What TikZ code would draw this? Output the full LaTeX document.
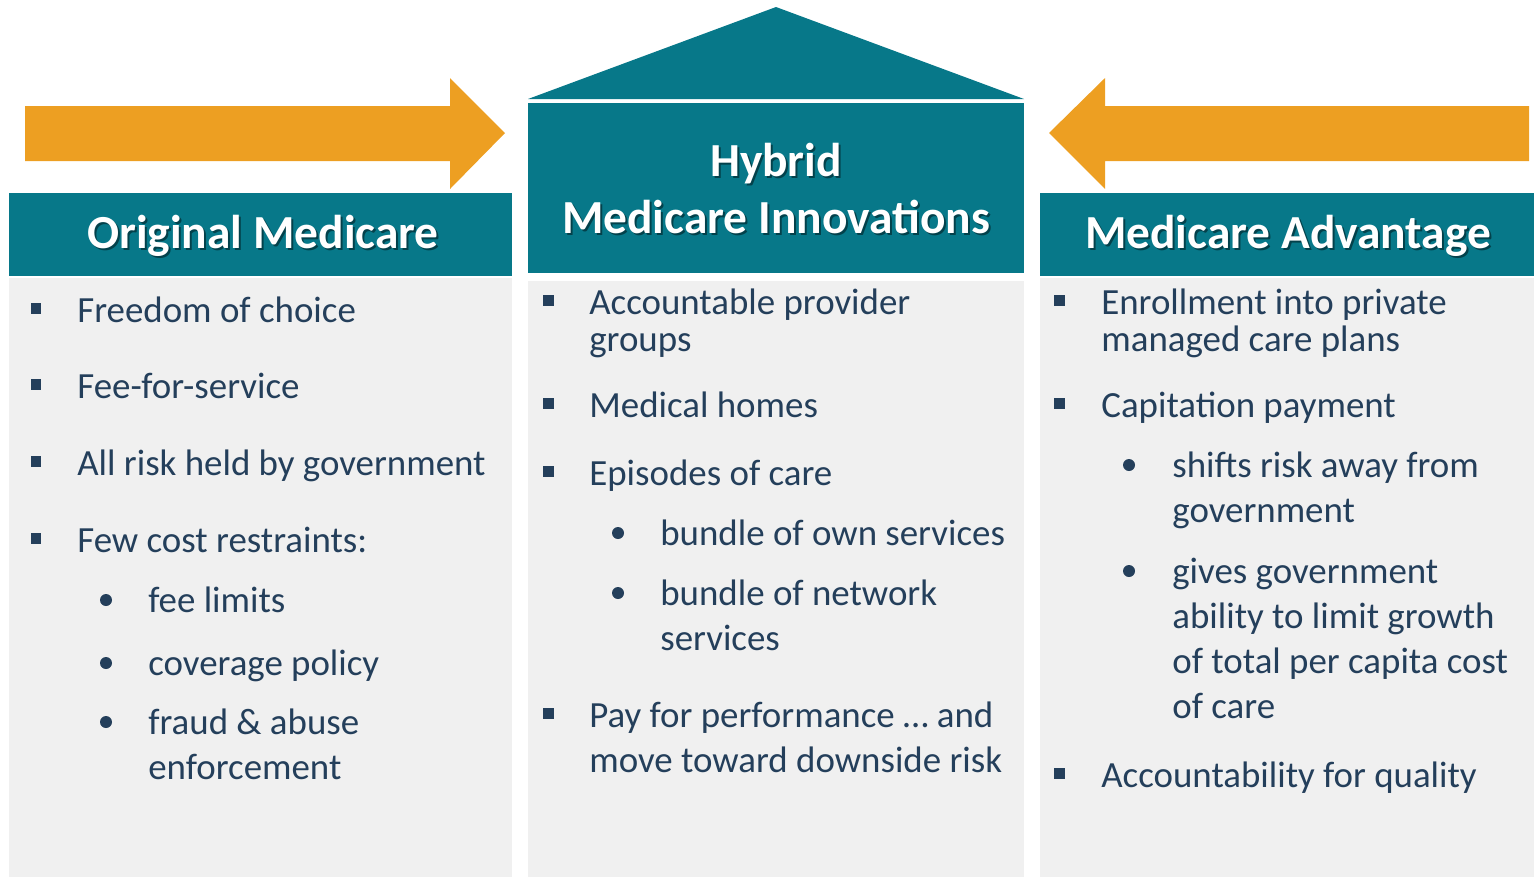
\documentclass[tikz,border=0pt]{standalone}
\usepackage{fontspec}
\setmainfont{Carlito}
\usepackage{xcolor}
\usetikzlibrary{positioning}
\definecolor{medteal}{RGB}{7, 120, 137}
\definecolor{medorange}{RGB}{237, 159, 34}
\definecolor{medgray}{RGB}{240, 240, 240}
\definecolor{medtext}{RGB}{36, 63, 91}

\begin{document}
\begin{tikzpicture}[
        x=0.02cm, y=-0.02cm,
        title/.style={text=white, font=\bfseries\fontsize{27}{32.4}\selectfont, align=center, anchor=base, inner sep=0pt},
        titleshadow/.style={title, text=black, opacity=0.45},
        item/.style={text=medtext, font=\fontsize{21}{25.6}\selectfont, align=left, anchor=north west, inner sep=0pt},
        sqbullet/.style={rectangle, fill=medtext, minimum size=0.22cm, inner sep=0pt},
        dotbullet/.style={circle, fill=medtext, minimum size=0.24cm, inner sep=0pt}
    ]
        \useasboundingbox (0,0) rectangle (1534,877);

        % arrows and roof
        \fill[medorange] (25,106) -- (450,106) -- (450,78) -- (505,133) -- (450,189) -- (450,161) -- (25,161) -- cycle;
        \fill[medorange] (1529,106) -- (1105,106) -- (1105,78) -- (1049,133) -- (1105,189) -- (1105,161) -- (1529,161) -- cycle;
        \fill[medteal] (528,99) -- (776,7) -- (1024,99) -- cycle;

        % headers and bodies
        \fill[medteal] (9,193) rectangle (512,276);
        \fill[medteal] (528,103) rectangle (1024,273);
        \fill[medteal] (1040,193) rectangle (1534,276);
        \fill[medgray] (9,278) rectangle (512,877);
        \fill[medgray] (528,281) rectangle (1024,877);
        \fill[medgray] (1040,278) rectangle (1534,877);

        \node[titleshadow] (origshadow) at (265,250) {Original Medicare};
        \node[title] (origtitle) at (263,248) {Original Medicare};
        \node[titleshadow] (hybridshadow) at (778,235) {Hybrid\\Medicare Innovations};
        \node[title] (hybridtitle) at (776,233) {Hybrid\\Medicare Innovations};
        \node[titleshadow] (advshadow) at (1290,250) {Medicare Advantage};
        \node[title] (advtitle) at (1288,248) {Medicare Advantage};

        % original medicare (y = first baseline)
        \foreach \txt/\y [count=\i] in {Freedom of choice/322, Fee-for-service/398, All risk held by government/475, Few cost restraints:/552} {
            \node[sqbullet] (origsq\i) at (36,\y-14) {};
            \node[item] (origitem\i) at (77,\y-31.6) {\strut\txt};
        }
        \foreach \txt/\y [count=\i] in {fee limits/612, coverage policy/675, {fraud \& abuse\\enforcement}/734} {
            \node[dotbullet] (origdot\i) at (106,\y-12) {};
            \node[item] (origsub\i) at (148,\y-31.6) {\strut\txt};
        }

        % hybrid innovations
        \foreach \txt/\y [count=\i] in {{Accountable provider\\[-4.6pt]groups}/314, Medical homes/417, Episodes of care/485, {Pay for performance … and\\move toward downside risk}/727} {
            \node[sqbullet] (hybsq\i) at (548,\y-14) {};
            \node[item] (hybitem\i) at (589,\y-31.6) {\strut\txt};
        }
        \foreach \txt/\y [count=\i] in {bundle of own services/545, {bundle of network\\services}/605} {
            \node[dotbullet] (hybdot\i) at (618,\y-12) {};
            \node[item] (hybsub\i) at (660,\y-31.6) {\strut\txt};
        }

        % medicare advantage
        \foreach \txt/\y [count=\i] in {{Enrollment into private\\[-4.6pt]managed care plans}/314, Capitation payment/417, Accountability for quality/787} {
            \node[sqbullet] (advsq\i) at (1059,\y-14) {};
            \node[item] (advitem\i) at (1101,\y-31.6) {\strut\txt};
        }
        \foreach \txt/\y [count=\i] in {{shifts risk away from\\government}/477, {gives government\\ability to limit growth\\of total per capita cost\\of care}/583} {
            \node[dotbullet] (advdot\i) at (1129,\y-12) {};
            \node[item] (advsub\i) at (1172,\y-31.6) {\strut\txt};
        }
    \end{tikzpicture}
\end{document}
